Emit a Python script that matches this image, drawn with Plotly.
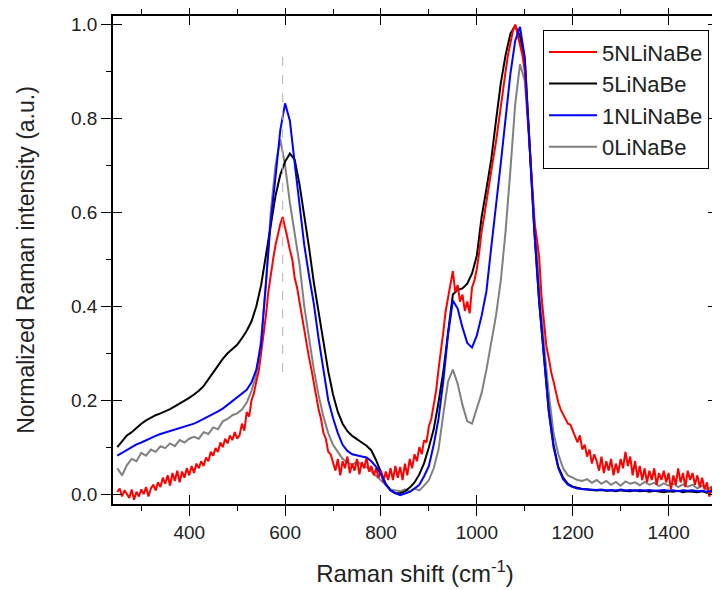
import numpy as np
import plotly.graph_objects as go

# ---------------- data ----------------
x_coarse = list(range(250, 1501, 10))   # grid for smooth-ish spectra
x_fine = list(range(250, 1501, 5))      # grid for the noisy red spectrum

black_5LiNaBe = [
    0.100, 0.112, 0.125, 0.132, 0.142, 0.150, 0.157, 0.163, 0.168, 0.172,
    0.176, 0.181, 0.187, 0.193, 0.198, 0.205, 0.212, 0.220, 0.230, 0.245,
    0.260, 0.273, 0.288, 0.300, 0.310, 0.318, 0.332, 0.348, 0.368, 0.400,
    0.445, 0.510, 0.580, 0.635, 0.680, 0.708, 0.725, 0.712, 0.660, 0.595,
    0.525, 0.450, 0.385, 0.318, 0.262, 0.212, 0.175, 0.150, 0.134, 0.124,
    0.116, 0.110, 0.103, 0.093, 0.072, 0.046, 0.022, 0.008, 0.002, 0.002,
    0.006, 0.014, 0.025, 0.042, 0.066, 0.100, 0.138, 0.195, 0.260, 0.345,
    0.425, 0.435, 0.438, 0.448, 0.470, 0.508, 0.590, 0.650, 0.712, 0.795,
    0.875, 0.935, 0.980, 0.998, 0.975, 0.925, 0.745, 0.560, 0.410, 0.290,
    0.180, 0.105, 0.058, 0.035, 0.022, 0.016, 0.013, 0.011, 0.010, 0.009,
    0.008, 0.009, 0.007, 0.008, 0.006, 0.008, 0.007, 0.006, 0.008, 0.006,
    0.007, 0.005, 0.007, 0.006, 0.004, 0.006, 0.005, 0.007, 0.004, 0.006,
    0.005, 0.004, 0.006, 0.003, 0.005, 0.004,
]

blue_1NLiNaBe = [
    0.082, 0.088, 0.095, 0.100, 0.106, 0.110, 0.115, 0.120, 0.124, 0.128,
    0.131, 0.135, 0.137, 0.140, 0.143, 0.146, 0.150, 0.155, 0.160, 0.165,
    0.170, 0.176, 0.182, 0.190, 0.198, 0.206, 0.215, 0.222, 0.238, 0.265,
    0.320, 0.450, 0.580, 0.675, 0.775, 0.832, 0.795, 0.705, 0.612, 0.530,
    0.465, 0.405, 0.330, 0.265, 0.200, 0.162, 0.130, 0.105, 0.092, 0.085,
    0.082, 0.080, 0.078, 0.070, 0.058, 0.042, 0.020, 0.008, 0.002, -0.002,
    0.001, 0.005, 0.012, 0.020, 0.038, 0.060, 0.105, 0.160, 0.240, 0.340,
    0.412, 0.395, 0.355, 0.322, 0.312, 0.338, 0.380, 0.432, 0.525, 0.612,
    0.705, 0.800, 0.895, 0.965, 0.995, 0.930, 0.745, 0.560, 0.410, 0.285,
    0.175, 0.100, 0.055, 0.032, 0.020, 0.015, 0.012, 0.011, 0.010, 0.010,
    0.009, 0.010, 0.008, 0.009, 0.008, 0.010, 0.008, 0.009, 0.007, 0.009,
    0.008, 0.009, 0.007, 0.008, 0.009, 0.007, 0.008, 0.006, 0.008, 0.007,
    0.008, 0.006, 0.007, 0.005, 0.007, 0.006,
]

gray_0LiNaBe = [
    0.055, 0.040, 0.062, 0.075, 0.070, 0.088, 0.082, 0.095, 0.090, 0.102,
    0.098, 0.108, 0.102, 0.115, 0.110, 0.118, 0.122, 0.118, 0.132, 0.128,
    0.142, 0.138, 0.155, 0.160, 0.168, 0.172, 0.180, 0.195, 0.220, 0.255,
    0.330, 0.445, 0.600, 0.700, 0.755, 0.700, 0.620, 0.555, 0.490, 0.400,
    0.330, 0.265, 0.210, 0.165, 0.130, 0.105, 0.090, 0.075, 0.068, 0.062,
    0.070, 0.062, 0.058, 0.048, 0.038, 0.028, 0.018, 0.010, 0.008, 0.006,
    0.010, 0.005, 0.012, 0.008, 0.018, 0.030, 0.055, 0.095, 0.170, 0.240,
    0.265, 0.235, 0.190, 0.155, 0.150, 0.185, 0.215, 0.265, 0.320, 0.380,
    0.455, 0.560, 0.690, 0.830, 0.915, 0.880, 0.740, 0.580, 0.440, 0.320,
    0.215, 0.130, 0.085, 0.055, 0.040, 0.035, 0.030, 0.028, 0.032, 0.024,
    0.030, 0.022, 0.028, 0.020, 0.026, 0.018, 0.027, 0.022, 0.025, 0.019,
    0.026, 0.020, 0.024, 0.017, 0.023, 0.018, 0.022, 0.015, 0.021, 0.016,
    0.020, 0.012, 0.018, 0.010, 0.016, 0.008,
]

red_5NLiNaBe = [
    0.005, 0.012, -0.005, 0.008, 0.000, -0.008, 0.010, -0.012, 0.005, -0.005,
    0.010, 0.000, 0.015, -0.005, 0.012, 0.020, 0.008, 0.025, 0.015, 0.035,
    0.022, 0.040, 0.018, 0.045, 0.028, 0.050, 0.025, 0.048, 0.035, 0.055,
    0.040, 0.060, 0.045, 0.065, 0.055, 0.070, 0.060, 0.078, 0.070, 0.090,
    0.082, 0.098, 0.090, 0.110, 0.100, 0.118, 0.108, 0.125, 0.115, 0.132,
    0.118, 0.125, 0.150, 0.135, 0.175, 0.165, 0.200, 0.215, 0.240, 0.262,
    0.300, 0.335, 0.380, 0.430, 0.470, 0.500, 0.530, 0.555, 0.575, 0.590,
    0.570, 0.545, 0.520, 0.500, 0.460, 0.440, 0.410, 0.380, 0.345, 0.320,
    0.290, 0.265, 0.235, 0.210, 0.180, 0.160, 0.130, 0.118, 0.090, 0.085,
    0.065, 0.050, 0.075, 0.040, 0.070, 0.055, 0.080, 0.045, 0.065, 0.050,
    0.075, 0.042, 0.068, 0.055, 0.078, 0.048, 0.060, 0.040, 0.055, 0.035,
    0.050, 0.025, 0.048, 0.030, 0.055, 0.030, 0.060, 0.035, 0.058, 0.030,
    0.065, 0.040, 0.075, 0.055, 0.085, 0.070, 0.100, 0.085, 0.115, 0.110,
    0.145, 0.160, 0.190, 0.220, 0.265, 0.300, 0.345, 0.390, 0.420, 0.445,
    0.475, 0.430, 0.445, 0.410, 0.425, 0.390, 0.410, 0.385, 0.440, 0.455,
    0.480, 0.515, 0.560, 0.590, 0.625, 0.650, 0.685, 0.720, 0.750, 0.790,
    0.830, 0.870, 0.900, 0.935, 0.960, 0.985, 1.000, 0.980, 0.955, 0.935,
    0.900, 0.830, 0.750, 0.660, 0.580, 0.545, 0.505, 0.420, 0.360, 0.315,
    0.290, 0.260, 0.240, 0.215, 0.195, 0.180, 0.170, 0.160, 0.150, 0.148,
    0.135, 0.120, 0.110, 0.125, 0.095, 0.105, 0.080, 0.095, 0.065, 0.085,
    0.070, 0.050, 0.080, 0.045, 0.070, 0.050, 0.075, 0.040, 0.065, 0.045,
    0.075, 0.055, 0.090, 0.060, 0.080, 0.040, 0.070, 0.035, 0.060, 0.030,
    0.055, 0.025, 0.050, 0.030, 0.055, 0.020, 0.045, 0.030, 0.050, 0.025,
    0.045, 0.010, 0.040, 0.020, 0.055, 0.025, 0.045, 0.015, 0.050, 0.030,
    0.045, 0.020, 0.040, 0.015, 0.035, 0.010, 0.025, -0.005, 0.015, -0.010,
    0.005,
]

series_names = ["5NLiNaBe", "5LiNaBe", "1NLiNaBe", "0LiNaBe"]
x_ticks = [400, 600, 800, 1000, 1200, 1400]
y_ticks = [0.0, 0.2, 0.4, 0.6, 0.8, 1.0]
marker_line_x = 595          # dashed reference line position (cm-1)
marker_line_y = [0.26, 0.94]  # its vertical extent

X_RANGE = [241, 1501]
Y_RANGE = [-0.021, 1.018]

FONT = "Liberation Sans, Arial, sans-serif"

fig = go.Figure()
fig.add_trace(go.Scatter(x=x_coarse, y=gray_0LiNaBe, mode="lines", name=series_names[3],
                         line=dict(color="#808080", width=2), legendrank=4))
fig.add_trace(go.Scatter(x=x_coarse, y=black_5LiNaBe, mode="lines", name=series_names[1],
                         line=dict(color="#000000", width=2), legendrank=2))
fig.add_trace(go.Scatter(x=x_fine, y=red_5NLiNaBe, mode="lines", name=series_names[0],
                         line=dict(color="#ff0000", width=2), legendrank=1))
fig.add_trace(go.Scatter(x=x_coarse, y=blue_1NLiNaBe, mode="lines", name=series_names[2],
                         line=dict(color="#0000ff", width=2), legendrank=3))
# empty trace that activates the overlay axes carrying the inward half of the major ticks
fig.add_trace(go.Scatter(x=[None], y=[None], xaxis="x2", yaxis="y2", showlegend=False,
                         hoverinfo="skip"))

fig.add_shape(type="line", xref="x", yref="y",
              x0=marker_line_x, x1=marker_line_x, y0=marker_line_y[0], y1=marker_line_y[1],
              line=dict(color="#b0b0b0", width=1, dash="dash"))

axis_common = dict(showline=True, linecolor="black", linewidth=1.5, showgrid=False,
                   zeroline=False, mirror="allticks", ticks="outside", ticklen=10,
                   tickwidth=1.3, tickcolor="black", automargin=False,
                   tickfont=dict(family=FONT, size=19, color="#222"))
overlay_common = dict(showticklabels=False, showline=False, showgrid=False, zeroline=False,
                      ticks="inside", ticklen=9, tickwidth=1.3, tickcolor="black",
                      mirror="allticks", automargin=False)

# the page body adds an 8px margin, so the figure is 712x582 and margins are offset by 8px
fig.update_layout(
    width=712, height=582,
    margin=dict(l=105, r=3, t=8, b=86, pad=0, autoexpand=False),
    paper_bgcolor="white", plot_bgcolor="white",
    font=dict(family=FONT, color="#222"),
    showlegend=True,
    legend=dict(x=0.712, y=0.971, xanchor="left", yanchor="top",
                bgcolor="white", bordercolor="black", borderwidth=1,
                font=dict(family=FONT, size=22, color="#222"),
                itemwidth=48, tracegroupgap=0),
    xaxis=dict(range=X_RANGE, tickvals=x_ticks, ticktext=[str(v) for v in x_ticks],
               minor=dict(dtick=100, tick0=0, ticks="outside", ticklen=5, tickcolor="black", tickwidth=1.3),
               title=dict(text="Raman shift (cm<sup>-1</sup>)", standoff=24,
                          font=dict(family=FONT, size=24, color="#222")),
               **axis_common),
    yaxis=dict(range=Y_RANGE, tickvals=y_ticks, ticktext=["%.1f" % v for v in y_ticks],
               minor=dict(dtick=0.1, tick0=0, ticks="outside", ticklen=5, tickcolor="black", tickwidth=1.3),
               title=dict(text="Normalized Raman intensity (a.u.)", standoff=30,
                          font=dict(family=FONT, size=23, color="#222")),
               **axis_common),
    xaxis2=dict(overlaying="x", range=X_RANGE, tickvals=x_ticks, **overlay_common),
    yaxis2=dict(overlaying="y", range=Y_RANGE, tickvals=y_ticks, **overlay_common),
)

assert len(black_5LiNaBe) == len(x_coarse)
assert len(blue_1NLiNaBe) == len(x_coarse)
assert len(gray_0LiNaBe) == len(x_coarse)
assert len(red_5NLiNaBe) == len(x_fine)

fig.write_html("out.html")
